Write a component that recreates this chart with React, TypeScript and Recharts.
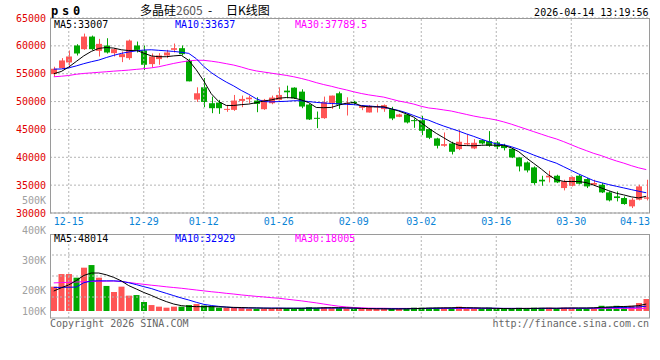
import React from "react";
import { ComposedChart, Bar, Line, XAxis, YAxis, CartesianGrid, ReferenceLine, Cell } from "recharts";

const MONO = '"DejaVu Sans Mono", monospace';
const CJK = '"Noto Sans CJK SC", sans-serif';
const RED = "#ff5555";
const GREEN = "#00a800";
const GRID = "#b4b4b4";
const FRAME = "#9a9a9a";
const DATE_BLUE = "#0a84d6";

const dates = [
  "12-11", "12-12", "12-15", "12-16", "12-17", "12-18", "12-19", "12-22", "12-23", "12-24",
  "12-25", "12-26", "12-29", "12-30", "12-31", "01-05", "01-06", "01-07", "01-08", "01-09",
  "01-12", "01-13", "01-14", "01-15", "01-16", "01-19", "01-20", "01-21", "01-22", "01-23",
  "01-26", "01-27", "01-28", "01-29", "01-30", "02-02", "02-03", "02-04", "02-05", "02-06",
  "02-09", "02-10", "02-11", "02-12", "02-13", "02-24", "02-25", "02-26", "02-27", "03-02",
  "03-03", "03-04", "03-05", "03-06", "03-09", "03-10", "03-11", "03-12", "03-13", "03-16",
  "03-17", "03-18", "03-19", "03-20", "03-23", "03-24", "03-25", "03-26", "03-27", "03-30",
  "03-31", "04-01", "04-02", "04-03", "04-07", "04-08", "04-09", "04-10", "04-13", "04-14",
];

const opens = [
  54941, 56012, 57024, 60060, 59405, 61667, 59107, 60060, 58690, 57976,
  57798, 60060, 59167, 56726, 57619, 58274, 59286, 59583, 57321, 50357,
  52560, 49702, 49821, 48512, 48512, 50119, 50417, 50179, 48631, 49702,
  50298, 51964, 52500, 51786, 49464, 47083, 47024, 49762, 51488, 49702,
  49956, 48880, 48043, 49000, 48641, 48641, 47266, 47685, 46668, 46668,
  45055, 43381, 42066, 42485, 41469, 42305, 41588, 43083, 42903, 42664,
  42127, 41529, 39975, 39079, 38182, 35970, 36389, 36688, 34476, 34895,
  36688, 36090, 35080, 35074, 33699, 32982, 32683, 31189, 32385, 32564,
];
const highs = [
  56250, 57798, 59167, 60298, 62202, 61845, 61250, 61369, 59583, 58988,
  61131, 60774, 60060, 58631, 58690, 59286, 60417, 60060, 57679, 52560,
  54226, 50893, 50298, 49405, 51190, 51071, 51071, 50774, 50476, 51071,
  52560, 52857, 52560, 52202, 49600, 48214, 50893, 51071, 51786, 50774,
  50135, 49358, 49358, 49478, 49478, 49059, 47804, 47804, 46967, 47446,
  45174, 43501, 44457, 42784, 44875, 44098, 43262, 43202, 44696, 42903,
  42426, 41649, 39975, 39258, 38361, 36688, 37584, 36867, 35970, 36568,
  36867, 36269, 35970, 35373, 33879, 33879, 32982, 32683, 35074, 35970,
];
const lows = [
  54465, 55893, 56429, 58274, 59286, 59226, 58095, 58631, 58095, 57083,
  57500, 58810, 55655, 56131, 56607, 57798, 58810, 58274, 53631, 49941,
  48988, 47917, 47798, 48155, 48333, 48988, 49702, 48095, 48512, 49524,
  50179, 50595, 50476, 48810, 46700, 45238, 46905, 48690, 48690, 47500,
  49358, 48462, 48043, 48043, 48163, 46668, 47206, 46071, 45294, 43979,
  43262, 41588, 41887, 40512, 41289, 42186, 41469, 42305, 41887, 41469,
  41230, 39855, 37465, 37286, 35074, 34895, 35492, 35373, 34058, 34775,
  35134, 34476, 34900, 33580, 32086, 32086, 31488, 30890, 32265, 32265,
];
const closes = [
  55893, 57381, 58095, 58631, 61667, 59405, 60357, 58810, 59405, 58512,
  60952, 59286, 56607, 58095, 58274, 58810, 59583, 58512, 53631, 51488,
  49941, 48810, 48810, 48690, 50179, 50476, 50714, 49583, 50298, 50714,
  51190, 51667, 50595, 49107, 46786, 46905, 49881, 51071, 49464, 49762,
  49717, 49179, 49239, 49119, 49358, 46967, 47685, 46250, 46489, 44756,
  43501, 42066, 42365, 40990, 42784, 42544, 42604, 42485, 42066, 41887,
  41649, 39975, 38361, 37644, 35373, 35672, 36688, 35492, 35672, 36449,
  35254, 34775, 35380, 33699, 32265, 32683, 31608, 32385, 34775, 32803,
];

const ma5 = [
  55000, 55400, 56200, 57200, 58200, 59000, 59550, 59700, 59600, 59300,
  59150, 59200, 58700, 58200, 58050, 58050, 58200, 58300, 57400, 55700,
  53700, 51400, 50000, 49300, 49300, 49450, 49550, 49800, 50100, 50300,
  50600, 50720, 50650, 50300, 49800, 48940, 48900, 48950, 49360, 49700,
  49800, 49200, 49060, 49060, 49060, 48700, 48300, 47800, 47200, 46200,
  45200, 44300, 43500, 42700, 42150, 42100, 42070, 42150, 42200, 42150,
  42130, 41700, 41000, 39900, 38900, 37900, 36800, 35970, 35670, 35650,
  35650, 35450, 35000, 34500, 34000, 33550, 33250, 32900, 32700, 33007,
];
const ma10 = [
  55820, 55850, 56050, 56400, 56800, 57150, 57450, 57900, 58300, 58650,
  58900, 59100, 59250, 59300, 59200, 59100, 59000, 58850, 58650, 57700,
  56300, 55200, 54300, 53500, 52800, 52000, 51300, 50500, 50000, 49950,
  50000, 50050, 50150, 50150, 50000, 49850, 49750, 49650, 49600, 49500,
  49450, 49300, 49200, 49100, 48950, 48700, 48400, 48000, 47500, 47000,
  46650, 46100, 45600, 45150, 44700, 44200, 43750, 43250, 42800, 42400,
  42250, 41900, 41450, 40950, 40400, 39900, 39400, 38950, 38300, 37650,
  37000, 36400, 35800, 35450, 35100, 34800, 34500, 34200, 33900, 33637,
];
const ma30 = [
  54450, 54550, 54680, 54900, 55050, 55150, 55250, 55350, 55460, 55550,
  55650, 55780, 55900, 56050, 56250, 56550, 56850, 57100, 57300, 57420,
  57400, 57250, 57050, 56800, 56550, 56200, 55800, 55500, 55300, 55100,
  54900, 54700, 54450, 54150, 53800, 53400, 53050, 52750, 52400, 52100,
  51750, 51450, 51200, 51000, 50800, 50450, 50100, 49850, 49550, 49150,
  48850, 48700, 48500, 48300, 48000, 47700, 47400, 47150, 46950, 46700,
  46350, 45950, 45500, 45050, 44600, 44150, 43700, 43300, 42800, 42250,
  41700, 41200, 40700, 40300, 39800, 39350, 38950, 38500, 38100, 37790,
];

// volumes in thousands
const volumesK = [
  168, 255, 255, 230, 299, 317, 230, 173, 131, 168,
  106, 110, 62, 41, 30, 23, 30, 30, 41, 48,
  38, 33, 23, 21, 21, 21, 16, 15, 16, 16,
  21, 20, 15, 20, 26, 21, 26, 21, 20, 19,
  15, 14, 14, 15, 14, 15, 14, 16, 23, 23,
  22, 23, 22, 23, 30, 15, 14, 15, 23, 14,
  15, 14, 22, 15, 23, 22, 22, 15, 23, 22,
  18, 19, 18, 36, 30, 36, 30, 36, 55, 83,
];
const volMa5K = [
  138, 160, 180, 210, 245, 262, 262, 250, 232, 208,
  175, 152, 128, 108, 85, 65, 48, 37, 32, 30,
  30, 30, 29, 27, 25, 24, 22, 21, 20, 19,
  19, 19, 19, 19, 20, 21, 22, 23, 23, 22,
  20, 18, 16, 15, 15, 14, 14, 15, 16, 18,
  20, 21, 22, 22, 24, 23, 22, 21, 20, 18,
  17, 16, 17, 18, 18, 19, 20, 19, 20, 21,
  21, 21, 22, 25, 27, 30, 31, 33, 37, 48,
];
const volMa10K = [
  163, 163, 164, 165, 195, 207, 208, 208, 208, 205,
  195, 182, 168, 155, 138, 122, 106, 90, 76, 60,
  46, 38, 32, 27, 23, 22, 21, 21, 20, 20,
  20, 19, 19, 19, 19, 19, 20, 20, 20, 20,
  19, 18, 17, 17, 16, 16, 16, 16, 17, 17,
  18, 18, 19, 19, 20, 20, 20, 19, 19, 19,
  18, 18, 18, 17, 17, 18, 18, 18, 19, 19,
  19, 19, 20, 22, 23, 24, 25, 26, 28, 33,
];
const volMa30K = [
  194, 196, 198, 200, 202, 204, 205, 206, 207, 203,
  197, 190, 184, 178, 173, 167, 162, 157, 151, 145,
  139, 133, 128, 122, 117, 111, 106, 101, 97, 92,
  88, 82, 76, 70, 63, 56, 48, 40, 33, 28,
  24, 22, 20, 19, 19, 18, 18, 18, 18, 18,
  18, 18, 18, 18, 18, 18, 18, 18, 18, 18,
  18, 18, 18, 18, 18, 18, 18, 18, 18, 18,
  18, 18, 18, 18, 18, 18, 18, 18, 18, 18,
];

const dateTicks = ["12-15", "12-29", "01-12", "01-26", "02-09", "03-02", "03-16", "03-30", "04-13"];
const gridDates = ["12-15", "12-29", "01-12", "01-26", "02-09", "03-02", "03-16", "03-30"];
const priceTicks = [30000, 35000, 40000, 45000, 50000, 55000, 60000, 65000];
const volTicks = [100000, 200000, 300000, 400000];
const volGridLevels = [1, 2, 3];

const table = dates.map((date, i) => ({
  date,
  open: opens[i],
  high: highs[i],
  low: lows[i],
  close: closes[i],
  ma5: ma5[i],
  ma10: ma10[i],
  ma30: ma30[i],
  volume: volumesK[i] * 1000,
  vma5: volMa5K[i] * 1000,
  vma10: volMa10K[i] * 1000,
  vma30: volMa30K[i] * 1000,
}));

function Candle(props: any) {
  const { x, y, width, height, payload } = props;
  if (x == null || y == null || !payload) return null;
  const { open, close, high, low } = payload;
  const color = close >= open ? RED : GREEN;
  const top = Math.min(y, y + height);
  const h = Math.abs(height);
  const k = high > low ? h / (high - low) : 0;
  const bodyTop = top + (high - Math.max(open, close)) * k;
  const bodyBot = top + (high - Math.min(open, close)) * k;
  const bx = Math.round(x);
  const bw = Math.round(width);
  const wx = bx + Math.floor(bw / 2);
  return (
    <g>
      <rect x={wx} y={top} width={1} height={Math.max(1, h)} fill={color} />
      <rect x={bx} y={bodyTop} width={bw} height={Math.max(1, bodyBot - bodyTop)} fill={color} />
    </g>
  );
}

function DateTick(props: any) {
  const { x, y, payload } = props;
  const tx = Math.min(x, 635);
  return (
    <text x={tx} y={y} dy="0.71em" textAnchor="middle" fill={DATE_BLUE} fontSize={10} fontFamily={MONO}>
      {payload.value}
    </text>
  );
}

// volume-axis labels: the bottom label is held just above the panel's lower edge
function VolTick(props: any) {
  const { x, y, payload } = props;
  return (
    <text x={x} y={Math.min(y, 89)} dy="0.355em" textAnchor="end" fill="#a0a0a0" fontSize={10} fontFamily={MONO}>
      {`${payload.value / 1000}K`}
    </text>
  );
}

export default function App() {
  return (
    <div style={{ position: "relative", width: 660, height: 360, background: "#fff", overflow: "hidden" }}>
      <style>{`body{margin:0}`}</style>
      <div style={{ position: "absolute", left: 0, top: 0 }}>
        <ComposedChart width={660} height={230} data={table} margin={{ top: 18, right: 10, bottom: 0, left: 0 }}>
          <CartesianGrid horizontal vertical={false} stroke={GRID} strokeDasharray="2 2" />
          {gridDates.map((d) => (
            <ReferenceLine key={d} x={d} stroke={GRID} strokeDasharray="2 2" />
          ))}
          <XAxis
            dataKey="date"
            ticks={dateTicks}
            interval={0}
            tickLine={false}
            axisLine={false}
            tickSize={0}
            tickMargin={5}
            height={17}
            tick={<DateTick />}
          />
          <YAxis
            domain={[30000, 65000]}
            ticks={priceTicks}
            interval={0}
            width={50}
            tickLine={false}
            axisLine={false}
            tickSize={0}
            tickMargin={4}
            allowDataOverflow
            tick={{ fill: "#e00000", fontSize: 10, fontFamily: MONO }}
          />
          <Bar
            dataKey={(d: any) => [d.low, d.high]}
            barSize={6}
            shape={(p: any) => <Candle {...p} />}
            isAnimationActive={false}
          />
          <Line dataKey="ma30" stroke="#ff00ff" strokeWidth={1} dot={false} isAnimationActive={false} />
          <Line dataKey="ma10" stroke="#0000ff" strokeWidth={1} dot={false} isAnimationActive={false} />
          <Line dataKey="ma5" stroke="#000000" strokeWidth={1} dot={false} isAnimationActive={false} />
        </ComposedChart>
      </div>
      <div style={{ position: "absolute", left: 0, top: 222 }}>
        <ComposedChart width={660} height={96} data={table} margin={{ top: 12, right: 10, bottom: 0, left: 0 }}>
          <XAxis dataKey="date" hide />
          <YAxis
            yAxisId="lbl"
            width={50}
            domain={[106667, 386667]}
            ticks={volTicks}
            interval={0}
            allowDataOverflow
            axisLine={false}
            tickLine={false}
            tickSize={0}
            tickMargin={4}
            tick={<VolTick />}
          />
          <YAxis yAxisId="v" hide orientation="right" width={0} domain={[-48300, 531300]} allowDataOverflow />
          <YAxis yAxisId="g" hide orientation="right" width={0} domain={[0, 4]} allowDataOverflow />
          {gridDates.map((d) => (
            <ReferenceLine key={d} yAxisId="v" x={d} stroke={GRID} strokeDasharray="2 2" />
          ))}
          {volGridLevels.map((v) => (
            <ReferenceLine key={v} yAxisId="g" y={v} stroke={GRID} strokeDasharray="2 2" />
          ))}
          <Bar yAxisId="v" dataKey="volume" barSize={6} isAnimationActive={false}>
            {table.map((r, i) => (
              <Cell key={i} fill={r.close >= r.open ? RED : GREEN} />
            ))}
          </Bar>
          <Line yAxisId="v" dataKey="vma30" stroke="#ff00ff" strokeWidth={1} dot={false} isAnimationActive={false} />
          <Line yAxisId="v" dataKey="vma10" stroke="#0000ff" strokeWidth={1} dot={false} isAnimationActive={false} />
          <Line yAxisId="v" dataKey="vma5" stroke="#000000" strokeWidth={1} dot={false} isAnimationActive={false} />
        </ComposedChart>
      </div>
      <svg width={660} height={360} style={{ position: "absolute", left: 0, top: 0, pointerEvents: "none" }}>
        <rect x={50.5} y={18.5} width={599} height={194.5} fill="none" stroke={FRAME} strokeWidth={1} />
        <rect x={50.5} y={234.5} width={599} height={83.5} fill="none" stroke={FRAME} strokeWidth={1} />
        <text x={51} y={14.5} fontFamily={MONO} fontWeight="bold" fontSize={12} letterSpacing={3.8} fill="#000">ps0</text>
        <text x={140} y={14.5} fontFamily={CJK} fontSize={12} fill="#000">多晶硅<tspan fill="#555">2605</tspan></text>
        <text x={208} y={14.5} fontFamily={CJK} fontSize={12} fill="#000">-</text>
        <text x={226} y={14.5} fontFamily={CJK} fontSize={12} fill="#000">日K线图</text>
        <text x={648.5} y={15.5} textAnchor="end" fontFamily={MONO} fontSize={10} fill="#000">2026-04-14 13:19:56</text>
        <text x={54} y={27.5} fontFamily={MONO} fontSize={10} fill="#000">MA5:33007</text>
        <text x={175} y={27.5} fontFamily={MONO} fontSize={10} fill="#0000ff">MA10:33637</text>
        <text x={295} y={27.5} fontFamily={MONO} fontSize={10} fill="#ff00ff">MA30:37789.5</text>
        <text x={46} y={204} textAnchor="end" fontFamily={MONO} fontSize={10} fill="#a0a0a0">500K</text>
        <text x={54} y={242} fontFamily={MONO} fontSize={10} fill="#000">MA5:48014</text>
        <text x={175} y={242} fontFamily={MONO} fontSize={10} fill="#0000ff">MA10:32929</text>
        <text x={295} y={242} fontFamily={MONO} fontSize={10} fill="#ff00ff">MA30:18005</text>
        <text x={50} y={327} fontFamily={MONO} fontSize={10} fill="#666">Copyright 2026 SINA.COM</text>
        <text x={649} y={327} textAnchor="end" fontFamily={MONO} fontSize={10} fill="#666">http://finance.sina.com.cn</text>
      </svg>
    </div>
  );
}
